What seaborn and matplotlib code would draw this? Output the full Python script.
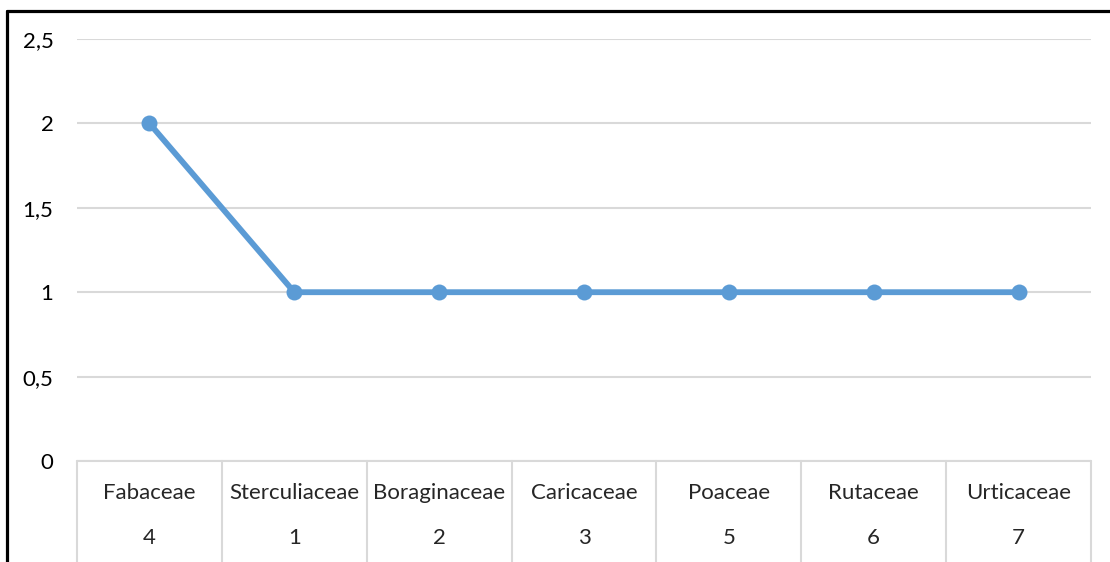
import pandas as pd
import numpy as np
import matplotlib.pyplot as plt
import seaborn as sns
from matplotlib.lines import Line2D
from matplotlib.ticker import FuncFormatter

# data
families = ['Fabaceae', 'Sterculiaceae', 'Boraginaceae', 'Caricaceae', 'Poaceae', 'Rutaceae', 'Urticaceae']
codes = ['4', '1', '2', '3', '5', '6', '7']
values = [2, 1, 1, 1, 1, 1, 1]
yticks = [0, 0.5, 1, 1.5, 2, 2.5]

sns.set_theme(style='white')
plt.rcParams['font.family'] = ['Lato', 'DejaVu Sans']

W, H = 1110, 562
fig = plt.figure(figsize=(W / 100, H / 100), dpi=100)
ax = fig.add_axes([77 / W, (H - 461) / H, 1014 / W, 422 / H])

df = pd.DataFrame({'family': families, 'value': values})
sns.lineplot(data=df, x='family', y='value', ax=ax, color='#5B9BD5', lw=4.2,
             marker='o', markersize=11.5, markeredgewidth=0, sort=False)

ax.set_xlim(-0.5, len(families) - 0.5)
ax.set_ylim(0, 2.5)
ax.set_yticks(yticks)
ax.yaxis.set_major_formatter(FuncFormatter(lambda v, p: f'{v:g}'.replace('.', ',')))
ax.tick_params(axis='y', length=0, pad=17, labelsize=16, colors='black')
ax.set_xticks([])
ax.set_xlabel('')
ax.set_ylabel('')
ax.grid(axis='y', color='#D9D9D9', lw=1.5)
ax.set_axisbelow(True)
for s in ax.spines.values():
    s.set_visible(False)

# category table under the plot
trans = ax.get_xaxis_transform()
bottom = -(101 / 422) - 0.02
ax.axhline(0, color='#D9D9D9', lw=1.5, clip_on=False, zorder=0)
for i in range(len(families) + 1):
    ax.plot([i - 0.5, i - 0.5], [0, bottom], transform=trans, color='#D9D9D9',
            lw=1.5, clip_on=False)
for i, (fam, code) in enumerate(zip(families, codes)):
    ax.text(i, -32 / 422, fam, transform=trans, ha='center', va='center', fontsize=16)
    ax.text(i, -77 / 422, code, transform=trans, ha='center', va='center', fontsize=16)

# black frame around the chart
fig.add_artist(Line2D([6.7 / W, 6.7 / W], [-0.05, 1 - 10.7 / H], color='black', lw=2.3))
fig.add_artist(Line2D([6.7 / W, 1.05], [1 - 10.7 / H, 1 - 10.7 / H], color='black', lw=2.3))

fig.savefig('out.png', dpi=100)
